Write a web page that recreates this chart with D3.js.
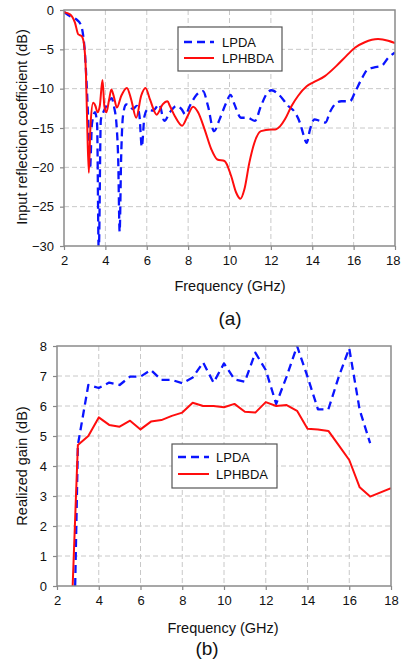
<!DOCTYPE html>
<html><head><meta charset="utf-8">
<script src="https://cdn.jsdelivr.net/npm/d3@7"></script>
<style>body{margin:0;background:#fff}svg{display:block}text{font-family:"Liberation Sans",Arial,sans-serif;fill:#111}</style>
</head><body>
<script>
// ---- Data: (a) input reflection coefficient ----
const s11FreqLPDA = [2.0,2.3,2.6,2.8,2.93,3.02,3.09,3.17,3.26,3.35,3.5,3.6,3.68,3.78,3.9,4.05,4.3,4.42,4.55,4.62,4.69,4.76,4.85,5.0,5.17,5.33,5.52,5.65,5.76,5.89,6.05,6.3,6.6,6.85,7.12,7.44,7.68,7.87,8.08,8.4,8.72,8.96,9.25,9.52,9.84,10.05,10.24,10.56,10.88,11.23,11.52,11.84,12.03,12.4,12.84,13.16,13.4,13.57,13.73,13.89,14.1,14.37,14.64,14.85,15.17,15.41,15.82,16.06,16.38,16.7,17.0,17.35,17.67,18.0];
const s11LPDA = [-0.25,-0.8,-1.2,-1.8,-3.3,-5.8,-9.2,-13.9,-20.2,-14.5,-13.0,-14.5,-31,-14,-13,-12.2,-11.2,-12.3,-15,-19,-28.2,-19,-13.5,-12,-12.2,-12.6,-12.2,-13.5,-17.4,-13.5,-12.6,-12.8,-12.0,-14.1,-13,-12.2,-12.6,-13.3,-12.2,-10.8,-10.3,-12.2,-15.4,-13.9,-11.8,-10.8,-12,-13.7,-13.7,-14.1,-12.2,-10.5,-10.2,-10.8,-12.2,-13,-14.3,-15.8,-16.9,-15.2,-13.9,-14.1,-14.3,-13,-11.8,-11.6,-11.6,-10.5,-8.8,-7.5,-7.3,-7.1,-6.1,-5.4];
const s11FreqLPHBDA = [2.0,2.29,2.53,2.69,2.85,2.96,3.06,3.12,3.2,3.28,3.41,3.52,3.62,3.73,3.86,3.95,4.05,4.18,4.29,4.4,4.56,4.77,5.04,5.25,5.49,5.73,5.94,6.16,6.48,6.77,7.0,7.12,7.36,7.71,7.97,8.24,8.48,8.8,9.12,9.41,9.76,10.08,10.32,10.53,10.72,10.96,11.2,11.52,12.0,12.2,12.44,12.68,13.0,13.32,13.73,14.05,14.61,15.17,15.66,16.06,16.54,17.18,17.67,18.0];
const s11LPHBDA = [-0.3,-0.55,-1.6,-3.1,-3.3,-4.2,-8,-14.3,-20.7,-14.7,-11.8,-12.2,-13,-12.2,-8.9,-12.2,-13,-11.4,-10.1,-10.9,-12.4,-10.9,-9.9,-11.4,-13.7,-10.9,-9.9,-11.4,-13.3,-12,-11.6,-12.2,-13.5,-14.7,-13.5,-12.3,-13,-15.2,-17.7,-19,-19.2,-21.1,-23.2,-24,-22.8,-19.4,-16.9,-15.4,-15.2,-15.2,-14.8,-13.9,-12.2,-10.9,-9.7,-9.2,-8.4,-7.1,-5.8,-4.8,-4.1,-3.7,-3.9,-4.2];
const s11YTicks = [0,-5,-10,-15,-20,-25,-30];
const freqTicks = [2,4,6,8,10,12,14,16,18];

// ---- Data: (b) realized gain ----
const gainFreqLPDA = [2.87,3.0,3.5,4.0,4.5,5.0,5.5,6.0,6.5,7.0,7.5,8.0,8.5,9.0,9.5,10.0,10.5,11.0,11.5,12.0,12.5,13.0,13.5,14.0,14.5,15.0,15.5,16.0,16.5,17.0];
const gainLPDA = [0,4.7,6.7,6.6,6.78,6.7,6.98,6.98,7.2,6.87,6.87,6.76,6.95,7.45,6.78,7.42,6.89,6.81,7.78,7.2,6.07,6.98,8.0,6.98,5.89,5.89,6.98,7.92,5.87,4.76];
const gainFreqLPHBDA = [2.75,3.0,3.5,4.0,4.5,5.0,5.5,6.0,6.5,7.0,7.5,8.0,8.5,9.0,9.5,10.0,10.5,11.0,11.5,12.0,12.5,13.0,13.5,14.0,14.5,15.0,15.5,16.0,16.5,17.0,18.0];
const gainLPHBDA = [0,4.7,5.0,5.62,5.37,5.31,5.51,5.22,5.48,5.53,5.67,5.78,6.11,6.0,6.0,5.96,6.07,5.81,5.78,6.13,6.0,6.03,5.84,5.24,5.22,5.17,4.69,4.2,3.29,2.98,3.26];
const gainYTicks = [0,1,2,3,4,5,6,7,8];

const seriesNames = ["LPDA","LPHBDA"];
const colors = {LPDA:"#0a14ff", LPHBDA:"#ff0d0d"};

const W = 401, H = 669;
const svg = d3.select("body").append("svg").attr("width",W).attr("height",H);
svg.append("rect").attr("width",W).attr("height",H).attr("fill","#fff");

function panel(cfg){
  const {x0,x1,y0,y1,yDomain,yTicks,curve,series,id} = cfg;
  const x = d3.scaleLinear().domain([2,18]).range([x0,x1]);
  const y = d3.scaleLinear().domain(yDomain).range([y1,y0]);
  const g = svg.append("g");
  g.append("g").selectAll("line").data(freqTicks.slice(1,-1)).join("line")
    .attr("x1",d=>x(d)).attr("x2",d=>x(d)).attr("y1",y0).attr("y2",y1)
    .attr("stroke","#c8c8c8").attr("stroke-width",1).attr("stroke-dasharray","5,3");
  g.append("g").selectAll("line").data(yTicks.filter(t=>t!==yDomain[0]&&t!==yDomain[1])).join("line")
    .attr("x1",x0).attr("x2",x1).attr("y1",d=>y(d)).attr("y2",d=>y(d))
    .attr("stroke","#c8c8c8").attr("stroke-width",1).attr("stroke-dasharray","5,3");
  svg.append("clipPath").attr("id",id).append("rect").attr("x",x0).attr("y",y0).attr("width",x1-x0).attr("height",y1-y0);
  const line = d3.line().x(d=>x(d[0])).y(d=>y(d[1])).curve(curve);
  series.forEach(s=>{
    g.append("path").datum(d3.zip(s.f,s.v)).attr("clip-path",`url(#${id})`)
      .attr("d",line).attr("fill","none").attr("stroke",colors[s.name])
      .attr("stroke-width",s.name==="LPDA"?2.3:2)
      .attr("stroke-dasharray",s.name==="LPDA"?"8,5":null)
      .attr("stroke-linejoin","round");
  });
  const ax = g.append("g").attr("transform",`translate(0,${y1})`)
    .call(d3.axisBottom(x).tickValues(freqTicks).tickSize(4).tickPadding(6));
  const ay = g.append("g").attr("transform",`translate(${x0},0)`)
    .call(d3.axisLeft(y).tickValues(yTicks).tickSize(4).tickPadding(6));
  [ax,ay].forEach(a=>{
    a.select(".domain").remove();
    a.selectAll("line").attr("stroke","#888").attr("stroke-width",1.2);
    a.selectAll("text").attr("font-size",13).attr("fill","#111").style("font-family","Liberation Sans, Arial, sans-serif");
  });
  // keep the last x label inside the page
  ax.selectAll(".tick text").filter(d=>x(d)+9>W).attr("text-anchor","end").attr("dx",W-1-x(18)+"px");
  g.append("rect").attr("x",x0).attr("y",y0).attr("width",x1-x0).attr("height",y1-y0)
    .attr("fill","none").attr("stroke","#8a8a8a").attr("stroke-width",1.5);
  return {x,y,g};
}

panel({x0:64,x1:395,y0:10,y1:246,yDomain:[-30,0],yTicks:s11YTicks,curve:d3.curveMonotoneX,id:"ca",
  series:[{name:"LPDA",f:s11FreqLPDA,v:s11LPDA},{name:"LPHBDA",f:s11FreqLPHBDA,v:s11LPHBDA}]});
panel({x0:57,x1:391,y0:346,y1:586,yDomain:[0,8],yTicks:gainYTicks,curve:d3.curveLinear,id:"cb",
  series:[{name:"LPDA",f:gainFreqLPDA,v:gainLPDA},{name:"LPHBDA",f:gainFreqLPHBDA,v:gainLPHBDA}]});

function legend(bx,by,bw,bh,ys,lx0,lx1,tx){
  const lg = svg.append("g");
  lg.append("rect").attr("x",bx).attr("y",by).attr("width",bw).attr("height",bh)
    .attr("fill","#fff").attr("stroke","#555").attr("stroke-width",1.2);
  seriesNames.forEach((n,i)=>{
    lg.append("line").attr("x1",lx0).attr("x2",lx1).attr("y1",ys[i]).attr("y2",ys[i])
      .attr("stroke",colors[n]).attr("stroke-width",n==="LPDA"?2.3:2)
      .attr("stroke-dasharray",n==="LPDA"?"8,5":null);
    lg.append("text").attr("x",tx).attr("y",ys[i]).attr("dy","0.35em")
      .attr("font-size",13).text(n);
  });
}
legend(178,27,104,44,[42,58],184,214,222);
legend(172,444,105,44,[457,474],178,209,216);

svg.append("text").attr("transform","translate(22,127) rotate(-90)").attr("text-anchor","middle")
  .attr("dy","0.35em").attr("font-size",14.5).text("Input reflection coefficient (dB)");
svg.append("text").attr("x",230).attr("y",286).attr("text-anchor","middle").attr("dy","0.35em")
  .attr("font-size",14.5).text("Frequency (GHz)");
svg.append("text").attr("x",230).attr("y",318).attr("text-anchor","middle").attr("dy","0.35em")
  .attr("font-size",19).text("(a)");
svg.append("text").attr("transform","translate(22,466) rotate(-90)").attr("text-anchor","middle")
  .attr("dy","0.35em").attr("font-size",14.5).text("Realized gain (dB)");
svg.append("text").attr("x",223).attr("y",628).attr("text-anchor","middle").attr("dy","0.35em")
  .attr("font-size",14.5).text("Frequency (GHz)");
svg.append("text").attr("x",207).attr("y",648).attr("text-anchor","middle").attr("dy","0.35em")
  .attr("font-size",19).text("(b)");
</script>
</body></html>
